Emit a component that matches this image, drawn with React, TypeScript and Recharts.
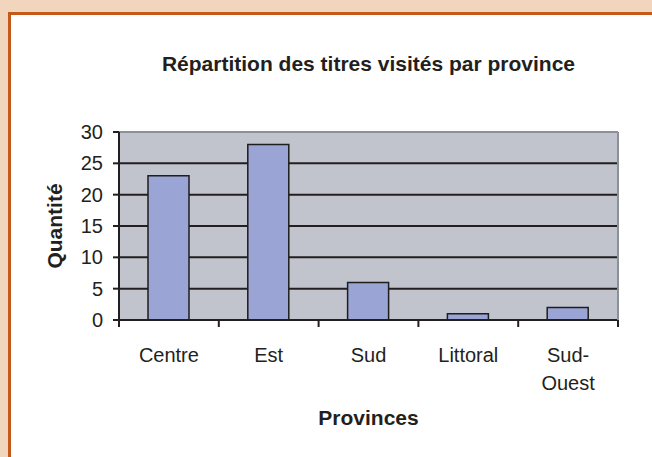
import React from 'react';
import { BarChart, Bar, XAxis, YAxis, CartesianGrid, ReferenceLine } from 'recharts';

const provinces = ['Centre', 'Est', 'Sud', 'Littoral', 'Sud-Ouest'];
const quantites = [23, 28, 6, 1, 2];
const yTicks = [0, 5, 10, 15, 20, 25, 30];

const data = provinces.map((p, i) => ({ province: p, quantite: quantites[i] }));

const FONT = '"Liberation Sans", Arial, sans-serif';
const INK = '#231f20';
const TICK_GAP = 14;
const TICK_LEN = 7;

// label + Excel-style tick marks between categories
const ProvinceTick = (props: any) => {
  const { x, y, payload, index } = props;
  const label: string = payload.value;
  const half = payload.offset || 0;
  const axisY = y - TICK_GAP;
  const cut = label.indexOf('-');
  const lines = cut > 0 ? [label.slice(0, cut + 1), label.slice(cut + 1)] : [label];
  return (
    <g>
      <line x1={x - half} x2={x - half} y1={axisY} y2={axisY + TICK_LEN} stroke={INK} strokeWidth={2} />
      {index === provinces.length - 1 && (
        <line x1={x + half} x2={x + half} y1={axisY} y2={axisY + TICK_LEN} stroke={INK} strokeWidth={2} />
      )}
      <text x={x} y={y} textAnchor="middle" fill={INK} fontSize={20} fontFamily={FONT}>
        {lines.map((t, i) => (
          <tspan key={i} x={x} dy={28}>{t}</tspan>
        ))}
      </text>
    </g>
  );
};

export default function App() {
  return (
    <div style={{ position: 'absolute', left: 0, top: 0, width: 652, height: 457, overflow: 'hidden', background: '#f1d5bd' }}>
      <div style={{ position: 'absolute', left: 8, top: 12, width: 700, height: 500, background: '#fff', borderLeft: '3px solid #c4591b', borderTop: '3px solid #c4591b' }} />
      <div style={{ position: 'absolute', left: 0, top: 52, width: 737, textAlign: 'center', fontFamily: FONT, fontWeight: 'bold', fontSize: 21, lineHeight: '23px', color: INK }}>
        Répartition des titres visités par province
      </div>
      <div style={{ position: 'absolute', left: 0, top: 0 }}>
        <BarChart width={652} height={457} data={data} margin={{ top: 132, right: 32, bottom: 27, left: 59 }} style={{ fontFamily: FONT }}>
          <CartesianGrid vertical={false} horizontalValues={yTicks.slice(1, -1)} stroke={INK} strokeWidth={2} fill="#c1c4cc" fillOpacity={1} />
          <XAxis dataKey="province" height={110} axisLine={{ stroke: INK, strokeWidth: 2 }} tickLine={false} tickSize={0} tickMargin={TICK_GAP} tick={<ProvinceTick />} interval={0}
            label={{ value: 'Provinces', position: 'insideBottom', offset: 5, style: { fontWeight: 'bold', fontSize: 21, fill: INK, fontFamily: FONT } }} />
          <YAxis domain={[0, 30]} ticks={yTicks} width={60} tickSize={6} tickMargin={10} interval={0}
            axisLine={{ stroke: INK, strokeWidth: 2 }} tickLine={{ stroke: INK, strokeWidth: 2 }}
            tick={{ fill: INK, fontSize: 20, fontFamily: FONT }}
            label={{ value: 'Quantité', angle: -90, position: 'insideLeft', offset: -4, style: { textAnchor: 'middle', fontWeight: 'bold', fontSize: 21, fill: INK, fontFamily: FONT } }} />
          <YAxis yAxisId="frame" orientation="right" domain={[0, 30]} width={2} tick={false} tickLine={false} axisLine={{ stroke: '#8b9198', strokeWidth: 2 }} />
          <ReferenceLine y={30} stroke="#8b9198" strokeWidth={2} />
          <Bar dataKey="quantite" fill="#9aa5d6" stroke="#1e1e1e" strokeWidth={1.5} barSize={41} isAnimationActive={false} />
        </BarChart>
      </div>
    </div>
  );
}
